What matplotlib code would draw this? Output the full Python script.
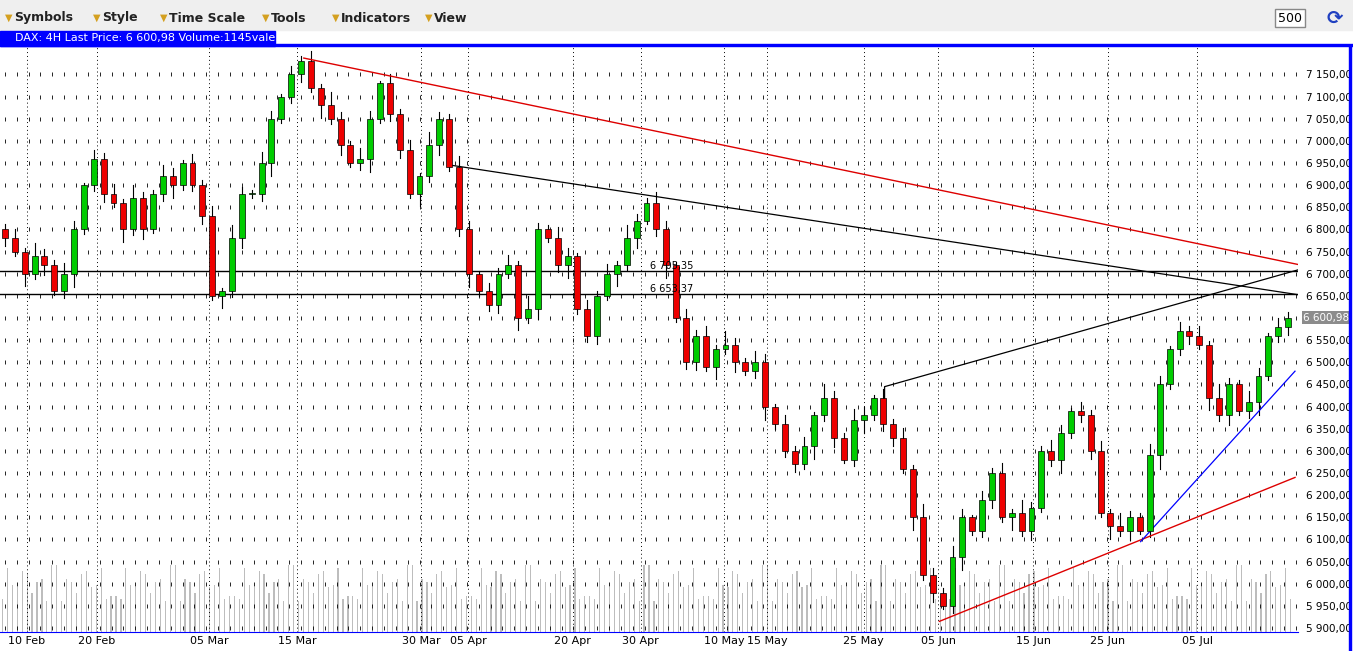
import matplotlib
matplotlib.use("Agg")
import matplotlib.pyplot as plt
from matplotlib.patches import Rectangle
from matplotlib.ticker import FixedLocator, FuncFormatter
import numpy as np

# closes of the 4H bars
closes = [6780, 6750, 6700, 6740, 6720, 6660, 6700, 6800, 6900, 6960, 6880, 6860, 6800, 6870, 6800,
          6880, 6920, 6900, 6950, 6900, 6830, 6650, 6660, 6780, 6880, 6880, 6950, 7050, 7100, 7150,
          7180, 7120, 7080, 7050, 6990, 6950, 6960, 7050, 7130, 7060, 6980, 6880, 6920, 6990, 7050,
          6940, 6800, 6700, 6660, 6630, 6700, 6720, 6600, 6620, 6800, 6780, 6720, 6740, 6620, 6560,
          6650, 6700, 6720, 6780, 6820, 6860, 6800, 6720, 6600, 6500, 6560, 6490, 6530, 6540, 6500,
          6480, 6500, 6400, 6360, 6300, 6270, 6310, 6380, 6420, 6330, 6280, 6370, 6380, 6420, 6360,
          6330, 6260, 6150, 6020, 5980, 5950, 6060, 6150, 6120, 6190, 6250, 6150, 6160, 6120, 6170,
          6300, 6280, 6340, 6390, 6380, 6300, 6160, 6130, 6120, 6150, 6120, 6290, 6450, 6530, 6570,
          6560, 6540, 6420, 6380, 6450, 6390, 6410, 6470, 6560, 6580, 6601]
first_open = 6800
wick_up = [12, 22, 8, 30, 15, 10, 25, 18, 6, 20]
wick_dn = [18, 10, 28, 12, 22, 8, 15, 30, 10, 14]
volume = [60, 85, 110, 70, 95, 120, 55, 90, 105, 80, 115, 65]

date_labels = ["10 Feb", "20 Feb", "05 Mar", "15 Mar", "30 Mar", "05 Apr", "20 Apr", "30 Apr",
               "10 May", "15 May", "25 May", "05 Jun", "15 Jun", "25 Jun", "05 Jul"]
date_px = [22, 92, 205, 293, 418, 465, 570, 638, 722, 765, 862, 937, 1032, 1107, 1197]

n = len(closes)
opens = [first_open] + closes[:-1]
PX = 1298.0
def bx(px):
    return px * n / PX

fig = plt.figure(figsize=(13.53, 6.51), dpi=100)
fig.patch.set_facecolor("white")

# toolbar
fig.patches.append(Rectangle((0, 1 - 30 / 651), 1, 30 / 651, transform=fig.transFigure,
                             color="#efefef", zorder=0))
for lbl, x in [("Symbols", 5), ("Style", 93), ("Time Scale", 160), ("Tools", 262),
               ("Indicators", 332), ("View", 425)]:
    fig.text(x / 1353, 1 - 18 / 651, "\u25bc", color="#d4a020", fontsize=7, va="center")
    fig.text((x + 9) / 1353, 1 - 18 / 651, lbl, fontsize=9, fontweight="bold", va="center",
             color="#222222")
fig.text(1278 / 1353, 1 - 18 / 651, "500", fontsize=9, va="center",
         bbox=dict(fc="white", ec="#888888", pad=2))
fig.text(1335 / 1353, 1 - 18 / 651, "\u27f3", fontsize=14, va="center", ha="center",
         color="#2040c0", fontweight="bold")
fig.patches.append(Rectangle((0, 1 - 46 / 651), 275 / 1353, 15 / 651, transform=fig.transFigure,
                             color="#0000ff", zorder=1))
fig.patches.append(Rectangle((0, 1 - 46 / 651), 1, 1.5 / 651, transform=fig.transFigure,
                             color="#0000ff", zorder=1))
fig.text(15 / 1353, 1 - 38.5 / 651, "DAX: 4H Last Price: 6 600,98 Volume:1145vale", color="white",
         fontsize=8, va="center")

ax = fig.add_axes([0, 19 / 651, PX / 1353, (632 - 47) / 651])
ax.set_xlim(-0.5, n)
ax.set_ylim(5891, 7212)

# volume
vax = ax.twinx()
vax.set_ylim(0, 1050)
vax.set_xlim(ax.get_xlim())
vols = [volume[i % len(volume)] for i in range(n)]
vax.bar(np.arange(n) - 0.25, vols, width=0.12, color="#bdbdbd")
vax.bar(np.arange(n) + 0.25, vols[::-1], width=0.12, color="#bdbdbd")
vax.set_yticks([])
vax.set_zorder(0)
ax.set_zorder(1)
ax.patch.set_visible(False)

# background grid: dashes and dotted verticals
levels = np.arange(5900, 7151, 50)
gx = np.arange(0, n, 1.2)
for lv in levels:
    ax.scatter(gx, [lv] * len(gx), marker="|", s=12, color="black", lw=0.6, zorder=0)
for px in date_px:
    ax.axvline(bx(px), color="black", ls=(0, (1, 3)), lw=0.7, zorder=0)

# candles
for i in range(n):
    o, c = opens[i], closes[i]
    hi = max(o, c) + wick_up[i % len(wick_up)]
    lo = min(o, c) - wick_dn[i % len(wick_dn)]
    col = "#00cc00" if c >= o else "#ee0000"
    ax.plot([i, i], [lo, hi], color="black", lw=0.8, zorder=2)
    ax.add_patch(Rectangle((i - 0.3, min(o, c)), 0.6, max(abs(c - o), 3), fc=col, ec="black",
                           lw=0.5, zorder=3))

# trend lines
ax.plot([bx(300), bx(1300)], [7187, 6720], color="#dd0000", lw=1)
ax.plot([bx(448), bx(1300)], [6945, 6652], color="black", lw=0.9)
ax.plot([bx(883), bx(883), bx(1300)], [6400, 6445, 6710], color="black", lw=0.9)
ax.plot([bx(938), bx(1295)], [5915, 6240], color="#dd0000", lw=1)
ax.plot([bx(1140), bx(1295)], [6095, 6480], color="#0000ff", lw=0.9)
ax.axhline(6705.35, color="black", lw=1)
ax.axhline(6653.37, color="black", lw=1)
ax.text(bx(648), 6705.35 + 6, "6 705,35", fontsize=7)
ax.text(bx(648), 6653.37 + 6, "6 653,37", fontsize=7)

def fmt(v, pos):
    if v == 6600:
        return ""
    return f"{v:,.2f}".replace(",", " ").replace(".", ",")
ax.yaxis.tick_right()
ax.yaxis.set_major_locator(FixedLocator(levels))
ax.yaxis.set_major_formatter(FuncFormatter(fmt))
ax.tick_params(axis="y", length=0, labelsize=7.5, pad=6)
ax.set_xticks([bx(p) for p in date_px])
ax.set_xticklabels(date_labels)
ax.tick_params(axis="x", length=0, labelsize=8, pad=3)
for s in ["top", "left"]:
    ax.spines[s].set_visible(False)
    vax.spines[s].set_visible(False)
ax.spines["bottom"].set_color("#0000ff")
ax.spines["right"].set_visible(False)
vax.spines["right"].set_visible(False)
vax.spines["bottom"].set_visible(False)
fig.patches.append(Rectangle((1349 / 1353, 0), 2 / 1353, 1 - 46 / 651, transform=fig.transFigure,
                             color="#0000ff", zorder=1))
ax.text(1.004, (6601 - 5891) / (7212 - 5891), "6 600,98", transform=ax.transAxes, fontsize=7.5,
        color="white", va="center", bbox=dict(fc="#8c8c8c", ec="none", pad=1.2), clip_on=False)

fig.savefig("out.png", dpi=100)
